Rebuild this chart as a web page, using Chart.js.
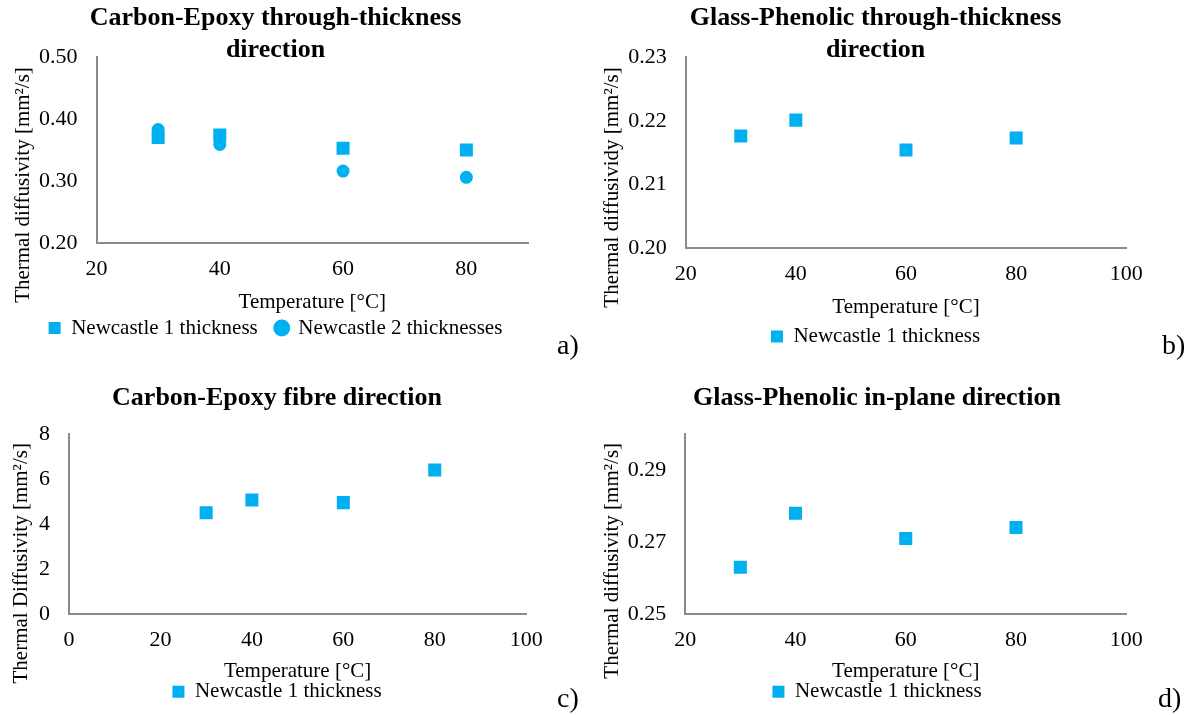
<!DOCTYPE html>
<html>
<head>
<meta charset="utf-8">
<script src="https://cdn.jsdelivr.net/npm/chart.js@4.4.0/dist/chart.umd.min.js"></script>
<style>
  body { margin: 0; background: #fff; width: 1192px; height: 715px; position: relative; overflow: hidden;
         font-family: 'Liberation Serif', 'Times New Roman', serif; }
  canvas { position: absolute; }
  .tag { position: absolute; font-size: 28px; line-height: 1; color: #000; }
</style>
</head>
<body>
<canvas id="chartA" width="596" height="357" style="left:0;top:0"></canvas>
<canvas id="chartB" width="596" height="357" style="left:596px;top:0"></canvas>
<canvas id="chartC" width="596" height="358" style="left:0;top:357px"></canvas>
<canvas id="chartD" width="596" height="358" style="left:596px;top:357px"></canvas>
<div class="tag" style="left:557px;top:331px">a)</div>
<div class="tag" style="left:1162px;top:331px">b)</div>
<div class="tag" style="left:557px;top:684px">c)</div>
<div class="tag" style="left:1158px;top:684px">d)</div>
<script>
// temperatures [°C]
const temps = [30, 40, 60, 80];

// thermal diffusivity [mm2/s]
const ceThroughOne = [0.370, 0.374, 0.353, 0.350];
const ceThroughTwo = [0.383, 0.359, 0.316, 0.306];
const gpThrough = [0.2176, 0.2201, 0.2154, 0.2173];
const ceFibre = [4.50, 5.07, 4.95, 6.40];
const gpInPlane = [0.263, 0.278, 0.271, 0.274];

// tick labels
const xTicksA = [20, 40, 60, 80];
const xTicksBD = [20, 40, 60, 80, 100];
const xTicksC = [0, 20, 40, 60, 80, 100];
const yTicksA = [0.20, 0.30, 0.40, 0.50];
const yTicksB = [0.20, 0.21, 0.22, 0.23];
const yTicksC = [0, 2, 4, 6, 8];
const yTicksD = [0.25, 0.27, 0.29];

const BLUE = '#00B0F0';
const AXIS = '#8a8a8a';
const FONT = "'Liberation Serif', 'Times New Roman', serif";

const pts = ys => temps.map((t, i) => ({ x: t, y: ys[i] }));

const squares = (label, ys) => ({
  label, data: pts(ys), pointStyle: 'rect', pointRadius: 9.2, pointHoverRadius: 9.2,
  backgroundColor: BLUE, borderColor: BLUE, borderWidth: 0,
});
const circles = (label, ys) => ({
  label, data: pts(ys), pointStyle: 'circle', pointRadius: 6.5, pointHoverRadius: 6.5,
  backgroundColor: BLUE, borderColor: BLUE, borderWidth: 0,
});

// rotated y axis title, placed freely (excel centres it on the whole plot)
const sideTitle = {
  id: 'sideTitle',
  afterDraw(chart, args, o) {
    if (!o.text) return;
    const ctx = chart.ctx;
    ctx.save();
    ctx.translate(o.x, o.y);
    ctx.rotate(-Math.PI / 2);
    ctx.font = `21px ${FONT}`;
    ctx.fillStyle = '#000';
    ctx.textAlign = 'center';
    ctx.textBaseline = 'middle';
    ctx.fillText(o.text, 0, 0);
    ctx.restore();
  },
};

function scatter(id, p) {
  return new Chart(document.getElementById(id), {
    type: 'scatter',
    data: { datasets: p.datasets },
    options: {
      responsive: false,
      animation: false,
      layout: { padding: p.pad },
      plugins: {
        title: {
          display: true, text: p.title, color: '#000', padding: p.titlePad,
          font: { family: FONT, size: 26, weight: 'bold', lineHeight: '32px' },
        },
        legend: {
          position: 'bottom',
          labels: {
            usePointStyle: true, boxWidth: 12, boxHeight: 12, padding: p.legendPad, color: '#000',
            font: { family: FONT, size: 21 },
          },
        },
        tooltip: { enabled: false },
        sideTitle: p.yTitle,
      },
      scales: {
        x: {
          type: 'linear', min: p.xMin, max: p.xMax,
          grid: { display: false, drawTicks: false },
          border: { color: AXIS, width: 2 },
          ticks: { color: '#000', padding: 13, font: { family: FONT, size: 22 } },
          afterBuildTicks: s => { s.ticks = p.xTicks.map(v => ({ value: v })); },
          afterFit: s => { s.height = p.xHeight; },
          title: {
            display: true, text: 'Temperature [°C]', color: '#000',
            font: { family: FONT, size: 21 }, padding: { top: 0, bottom: p.xTitlePad },
          },
        },
        y: {
          type: 'linear', min: p.yMin, max: p.yMax,
          grid: { display: false, drawTicks: false },
          border: { color: AXIS, width: 2 },
          ticks: {
            color: '#000', padding: 19, font: { family: FONT, size: 22 },
            callback: v => v.toFixed(p.decimals),
          },
          afterBuildTicks: s => { s.ticks = p.yTicks.map(v => ({ value: v })); },
          afterFit: s => { s.width = p.yWidth; },
        },
      },
    },
    plugins: [sideTitle],
  });
}

scatter('chartA', {
  title: ['Carbon-Epoxy through-thickness', 'direction'],
  datasets: [squares('Newcastle 1 thickness', ceThroughOne), circles('Newcastle 2 thicknesses', ceThroughTwo)],
  xMin: 20, xMax: 90, xTicks: xTicksA,
  yMin: 0.2, yMax: 0.5, yTicks: yTicksA, decimals: 2,
  pad: { left: 23, right: 68, top: 0, bottom: 8.5 },
  titlePad: { top: 2.3, bottom: -9.3 },
  yWidth: 73.5, xHeight: 56.5, xTitlePad: -15.1, legendPad: 18,
  yTitle: { text: 'Thermal diffusivity [mm²/s]', x: 23, y: 185 },
});

scatter('chartB', {
  title: ['Glass-Phenolic through-thickness', 'direction'],
  datasets: [squares('Newcastle 1 thickness', gpThrough)],
  xMin: 20, xMax: 100, xTicks: xTicksBD,
  yMin: 0.2, yMax: 0.23, yTicks: yTicksB, decimals: 2,
  pad: { left: 28.7, right: 65.7, top: 0, bottom: 0 },
  titlePad: { top: 2.3, bottom: -9.3 },
  yWidth: 61, xHeight: 67.7, xTitlePad: -3.6, legendPad: 10,
  yTitle: { text: 'Thermal diffusividy [mm²/s]', x: 16, y: 187.5 },
});

scatter('chartC', {
  title: 'Carbon-Epoxy fibre direction',
  datasets: [squares('Newcastle 1 thickness', ceFibre)],
  xMin: 0, xMax: 100, xTicks: xTicksC,
  yMin: 0, yMax: 8, yTicks: yTicksC, decimals: 0,
  pad: { left: 27.8, right: 69.8, top: 0, bottom: 2.8 },
  titlePad: { top: 25.3, bottom: 19.7 },
  yWidth: 41.2, xHeight: 57.2, xTitlePad: -13.1, legendPad: 10,
  yTitle: { text: 'Thermal Diffusivity [mm²/s]', x: 21, y: 206.3 },
});

scatter('chartD', {
  title: 'Glass-Phenolic in-plane direction',
  datasets: [squares('Newcastle 1 thickness', gpInPlane)],
  xMin: 20, xMax: 100, xTicks: xTicksBD,
  yMin: 0.25, yMax: 0.30, yTicks: yTicksD, decimals: 2,
  pad: { left: 31.7, right: 65.7, top: 0, bottom: 2.8 },
  titlePad: { top: 25.3, bottom: 19.7 },
  yWidth: 57.5, xHeight: 57.2, xTitlePad: -13.1, legendPad: 10,
  yTitle: { text: 'Thermal diffusivity [mm²/s]', x: 16, y: 203.8 },
});
</script>
</body>
</html>
